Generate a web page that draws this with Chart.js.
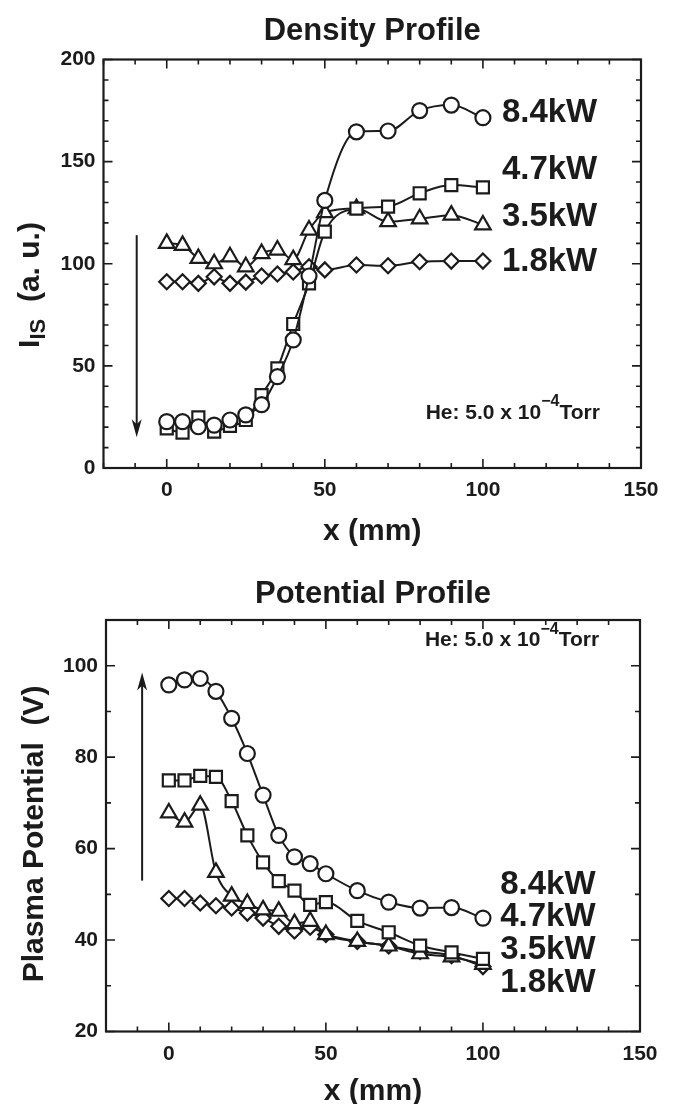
<!DOCTYPE html>
<html>
<head>
<meta charset="utf-8">
<script src="https://cdn.jsdelivr.net/npm/chart.js@4.4.1/dist/chart.umd.min.js"></script>
<style>
  body { margin: 0; background: #fff; }
  canvas { display: block; }
</style>
</head>
<body>
<canvas id="density" width="675" height="552"></canvas>
<canvas id="potential" width="675" height="552"></canvas>
<script>
// probe positions (mm)
const xPos = [0, 5, 10, 15, 20, 25, 30, 35, 40, 45, 50, 60, 70, 80, 90, 100];
const powers = ['8.4kW', '4.7kW', '3.5kW', '1.8kW'];
const markers = ['circle', 'rect', 'triangle', 'rectRot'];

// ion saturation current I_IS (a. u.)
const density84 = [22.7, 22.7, 20.2, 21, 23.5, 26, 31, 44.7, 62.7, 94, 131, 164.6, 165, 175, 177.7, 171.5];
const density47 = [19.4, 17.3, 24.8, 17.8, 20.6, 23.5, 35.7, 48.8, 70.5, 90.4, 115.7, 127, 128, 134.5, 138.5, 137.4];
const density35 = [110, 109, 102.6, 100, 103.4, 98.5, 105, 106.7, 102, 116.5, 125, 127, 120.6, 122, 123.8, 119];
const density18 = [91.2, 91.2, 90.4, 93.6, 90.4, 91, 94, 95, 96, 98.5, 97, 99.4, 99, 101, 101.3, 101.3];

// plasma potential (V)
const potential84 = [95.8, 96.9, 97.2, 94.4, 88.5, 80.8, 71.7, 62.9, 58.2, 56.7, 54.5, 50.8, 48.3, 47, 47.1, 44.8];
const potential47 = [74.9, 74.9, 75.9, 75.7, 70.4, 62.9, 57, 52.9, 50.8, 47.7, 48.3, 44.2, 41.7, 38.8, 37.3, 35.9];
const potential35 = [67.8, 65.8, 69.5, 54.8, 49.6, 48, 46.6, 46.3, 43.6, 44.1, 41.2, 39.7, 38.7, 37, 36.3, 34.7];
const potential18 = [49.1, 49.1, 48.1, 47.5, 47, 45.9, 44.8, 43, 42, 42.8, 41.2, 39.7, 38.7, 37.5, 36.6, 34.2];

// label anchors (data coords)
const densityLabelY = [174, 146, 123, 101];
const potentialLabelY = [52.1, 45.1, 37.9, 30.6];

const FONT = '"Liberation Sans", Arial, sans-serif';
const INK = '#1b1b1b';

function makeSets(series) {
  return series.map((vals, i) => ({
    label: powers[i],
    data: xPos.map((x, j) => ({ x: x, y: vals[j] })),
    borderColor: INK,
    borderWidth: 2,
    pointStyle: markers[i],
    pointRadius: markers[i] === 'rect' ? 8.5 : markers[i] === 'triangle' ? 9 : 7.5,
    pointBackgroundColor: '#fff',
    pointBorderColor: INK,
    pointBorderWidth: 2.2,
    cubicInterpolationMode: 'monotone',
    fill: false
  }));
}

// frame with inward ticks on all four sides + texts and arrows
const decor = {
  id: 'decor',
  beforeDatasetsDraw(chart, args, o) {
    const { ctx, chartArea: a, scales: { x, y } } = chart;
    ctx.save();
    ctx.strokeStyle = INK;
    ctx.lineWidth = 1.6;
    ctx.beginPath();
    x.ticks.forEach(t => {
      const px = x.getPixelForValue(t.value);
      const len = t.label !== '' ? 9 : 5;
      ctx.moveTo(px, a.bottom); ctx.lineTo(px, a.bottom - len);
      ctx.moveTo(px, a.top); ctx.lineTo(px, a.top + len);
    });
    y.ticks.forEach(t => {
      const py = y.getPixelForValue(t.value);
      const len = t.label !== '' ? 9 : 5;
      ctx.moveTo(a.left, py); ctx.lineTo(a.left + len, py);
      ctx.moveTo(a.right, py); ctx.lineTo(a.right - len, py);
    });
    ctx.stroke();
    ctx.lineWidth = 2.2;
    ctx.strokeRect(a.left, a.top, a.right - a.left, a.bottom - a.top);

    // arrow
    const ax = x.getPixelForValue(o.arrow[0]);
    const y0 = y.getPixelForValue(o.arrow[1]);
    const y1 = y.getPixelForValue(o.arrow[2]);
    const dir = y1 > y0 ? 1 : -1;
    ctx.lineWidth = 2;
    ctx.beginPath();
    ctx.moveTo(ax, y0); ctx.lineTo(ax, y1 - dir * 10);
    ctx.stroke();
    ctx.fillStyle = INK;
    ctx.beginPath();
    ctx.moveTo(ax, y1);
    ctx.lineTo(ax - 5, y1 - dir * 18);
    ctx.lineTo(ax, y1 - dir * 13);
    ctx.lineTo(ax + 5, y1 - dir * 18);
    ctx.closePath();
    ctx.fill();
    ctx.restore();
  },
  afterDraw(chart, args, o) {
    const { ctx, scales: { x, y } } = chart;
    ctx.save();
    ctx.fillStyle = INK;
    ctx.textBaseline = 'middle';
    ctx.textAlign = 'left';
    ctx.font = 'bold 33px ' + FONT;
    o.labelY.forEach((v, i) => {
      ctx.fillText(powers[i], x.getPixelForValue(o.labelX), y.getPixelForValue(v));
    });

    // gas pressure note, right aligned
    const rx = x.getPixelForValue(o.note[0]);
    const ry = y.getPixelForValue(o.note[1]);
    const big = 'bold 21px ' + FONT, small = 'bold 16px ' + FONT;
    ctx.font = big;
    const wA = ctx.measureText('He: 5.0 x 10').width;
    const wC = ctx.measureText('Torr').width;
    ctx.font = small;
    const wB = ctx.measureText('\u22124').width;
    let cx = rx - wA - wB - wC;
    ctx.font = big;
    ctx.fillText('He: 5.0 x 10', cx, ry);
    cx += wA;
    ctx.font = small;
    ctx.fillText('\u22124', cx, ry - 11);
    cx += wB;
    ctx.font = big;
    ctx.fillText('Torr', cx, ry);

    // rotated y title, subscript part drawn smaller and lower
    const yt = o.ytitle;
    ctx.translate(yt.at[0], yt.at[1]);
    ctx.rotate(-Math.PI / 2);
    const widths = yt.parts.map(p => {
      ctx.font = 'bold ' + p[1] + 'px ' + FONT;
      return ctx.measureText(p[0]).width;
    });
    let tx = -widths.reduce((s, w) => s + w, 0) / 2;
    yt.parts.forEach((p, i) => {
      ctx.font = 'bold ' + p[1] + 'px ' + FONT;
      ctx.fillText(p[0], tx, p[2]);
      tx += widths[i];
    });
    ctx.restore();
  }
};

function makeChart(id, cfg) {
  return new Chart(document.getElementById(id), {
    type: 'line',
    data: { datasets: makeSets(cfg.series) },
    plugins: [decor],
    options: {
      responsive: false,
      animation: false,
      devicePixelRatio: 1,
      layout: { padding: { left: 0, right: cfg.padRight, top: 0, bottom: 0 } },
      plugins: {
        legend: { display: false },
        tooltip: { enabled: false },
        title: {
          display: true,
          fullSize: false,
          text: cfg.title,
          color: INK,
          font: { family: FONT, size: 31, weight: 'bold' },
          padding: cfg.titlePad
        },
        decor: cfg.decor
      },
      scales: {
        x: {
          type: 'linear',
          min: -20, max: 150,
          afterFit: s => { s.height = cfg.xHeight; },
          grid: { display: false, drawTicks: false },
          border: { display: false },
          ticks: {
            stepSize: 10, autoSkip: false, maxRotation: 0,
            padding: cfg.xTickPad,
            color: INK,
            font: { family: FONT, size: 21, weight: 'bold' },
            callback: v => (v % 50 === 0 ? String(v) : '')
          },
          title: {
            display: true, text: 'x (mm)', color: INK,
            font: { family: FONT, size: 30, weight: 'bold' },
            padding: { top: 0, bottom: cfg.xTitlePad }
          }
        },
        y: {
          type: 'linear',
          min: cfg.yMin, max: cfg.yMax,
          afterFit: s => { s.width = cfg.yWidth; },
          grid: { display: false, drawTicks: false },
          border: { display: false },
          ticks: {
            stepSize: 10, autoSkip: false,
            padding: 8,
            color: INK,
            font: { family: FONT, size: 21, weight: 'bold' },
            callback: v => (v % cfg.yLabelStep === 0 ? String(v) : '')
          }
        }
      }
    }
  });
}

makeChart('density', {
  series: [density84, density47, density35, density18],
  title: 'Density Profile',
  titlePad: { top: 13, bottom: 9.3 },
  padRight: 34,
  xHeight: 84,
  xTickPad: 10,
  xTitlePad: 2,
  yWidth: 103.5,
  yMin: 0, yMax: 200, yLabelStep: 50,
  decor: {
    labelX: 106, labelY: densityLabelY,
    note: [137, 27],
    arrow: [-9.5, 114, 15],
    ytitle: { at: [31, 285], parts: [['I', 30, 0], ['IS', 22, 8], ['  (a. u.)', 30, 0]] }
  }
});

makeChart('potential', {
  series: [potential84, potential47, potential35, potential18],
  title: 'Potential Profile',
  titlePad: { top: 24, bottom: 6.8 },
  padRight: 35,
  xHeight: 72.5,
  xTickPad: 10,
  xTitlePad: -6,
  yWidth: 106,
  yMin: 20, yMax: 110, yLabelStep: 20,
  decor: {
    labelX: 105.5, labelY: potentialLabelY,
    note: [137, 105.6],
    arrow: [-8.5, 53, 98.5],
    ytitle: { at: [35, 282], parts: [['Plasma Potential  (V)', 30, 0]] }
  }
});
</script>
</body>
</html>
